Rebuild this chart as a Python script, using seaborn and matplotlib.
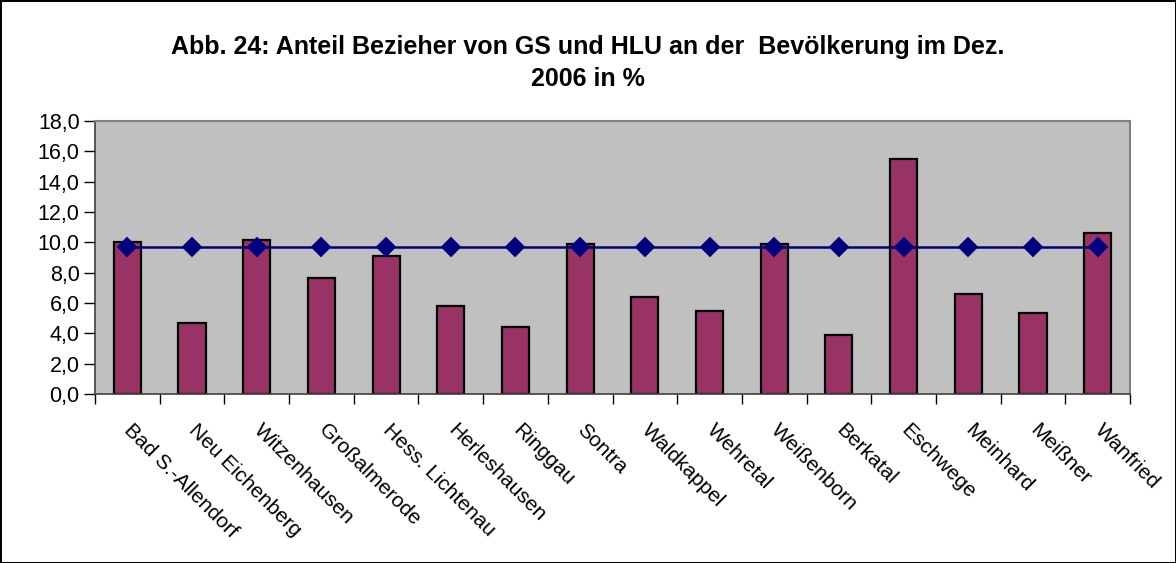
import numpy as np
import pandas as pd
import seaborn as sns
import matplotlib.pyplot as plt
from matplotlib.ticker import FuncFormatter, FixedLocator

# Gemeinden und Anteil Bezieher (in %)
gemeinden = [
    'Bad S.-Allendorf', 'Neu Eichenberg', 'Witzenhausen', 'Großalmerode',
    'Hess. Lichtenau', 'Herleshausen', 'Ringgau', 'Sontra', 'Waldkappel',
    'Wehretal', 'Weißenborn', 'Berkatal', 'Eschwege', 'Meinhard',
    'Meißner', 'Wanfried',
]
anteil = [10.0, 4.7, 10.15, 7.65, 9.07, 5.78, 4.4, 9.87, 6.42, 5.47,
          9.87, 3.91, 15.47, 6.59, 5.34, 10.63]
kreis = [9.69] * len(gemeinden)

title = ('Abb. 24: Anteil Bezieher von GS und HLU an der  Bevölkerung im Dez.\n'
         '2006 in %')

df = pd.DataFrame({'gemeinde': gemeinden, 'anteil': anteil, 'kreis': kreis})

sns.set_style('white')
plt.rcParams['font.family'] = ['Liberation Sans', 'DejaVu Sans']
plt.rcParams['text.color'] = 'black'
plt.rcParams['xtick.color'] = 'black'
plt.rcParams['ytick.color'] = 'black'
plt.rcParams['xtick.labelcolor'] = 'black'
plt.rcParams['ytick.labelcolor'] = 'black'

fig = plt.figure(figsize=(11.76, 5.63), dpi=100)
fig.patch.set_edgecolor('black')
fig.patch.set_linewidth(2)
ax = fig.add_axes([95 / 1176, 1 - 394 / 563, 1035 / 1176, 273 / 563])
ax.set_facecolor('#C0C0C0')

sns.barplot(x='gemeinde', y='anteil', data=df, color='#993366',
            saturation=1, width=0.42, edgecolor='black', linewidth=1.6, ax=ax)
sns.pointplot(x='gemeinde', y='kreis', data=df, color='#000080',
              markers='D', markersize=9.5, linewidth=1.8, ax=ax)

n = len(gemeinden)
ax.set_xlim(-0.5, n - 0.5)
ax.set_ylim(0, 18)
ax.set_yticks(np.arange(0, 18.1, 2))
ax.yaxis.set_major_formatter(FuncFormatter(lambda v, p: f'{v:.1f}'.replace('.', ',')))
ax.tick_params(axis='y', which='major', direction='out', length=8, width=1,
               color='black', labelcolor='black', labelsize=15.5, pad=3, left=True)

ax.xaxis.set_minor_locator(FixedLocator(np.arange(-0.5, n, 1.0)))
ax.tick_params(axis='x', which='minor', direction='out', length=7, width=1,
               color='black', bottom=True)
ax.tick_params(axis='x', which='major', length=0, pad=24, labelsize=15,
               labelcolor='black')
for lab in ax.get_xticklabels():
    lab.set_rotation(-45)
    lab.set_ha('left')
    lab.set_va('center')
    lab.set_rotation_mode('anchor')

ax.set_xlabel('')
ax.set_ylabel('')
for s in ('top', 'right'):
    ax.spines[s].set_color('#808080')
    ax.spines[s].set_linewidth(1.5)
for s in ('left', 'bottom'):
    ax.spines[s].set_color('#404040')
    ax.spines[s].set_linewidth(1.2)

fig.text(0.5, 1 - 63 / 563, title, ha='center', va='center', color='black',
         fontsize=18, fontweight='bold', linespacing=1.4)

plt.savefig('out.png', dpi=100)
